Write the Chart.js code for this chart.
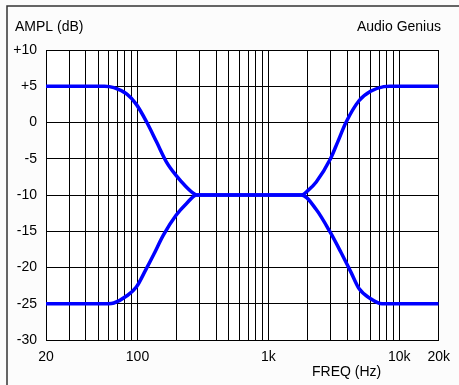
<!DOCTYPE html>
<html>
<head>
<meta charset="utf-8">
<script src="https://cdn.jsdelivr.net/npm/chart.js@4"></script>
<style>
  html, body { margin: 0; padding: 0; background: #fcfcfc; }
  canvas { display: block; }
</style>
</head>
<body>
<canvas id="eqChart" width="459" height="385"></canvas>
<script>
// Frequenzen (Hz) und Pegel (dB)
const upperFreq = [20, 56, 66, 83, 98, 118, 140, 167, 197, 236, 260, 284, 1790, 2000, 2320, 2980, 3380, 3910, 4920, 6030, 7600, 8500, 20000];
const upperDb   = [5, 5, 4.8, 3.9, 2.5, 0, -2.7, -5.5, -7.3, -8.9, -9.6, -10, -10, -9.4, -8.2, -5, -2.7, 0, 3, 4.3, 4.95, 5, 5];

const lowerFreq = [20, 60, 66, 83, 98, 115, 133, 158, 197, 236, 284, 1790, 2320, 2980, 3580, 4260, 4920, 6030, 7380, 20000];
const lowerDb   = [-25, -25, -24.9, -23.9, -22.7, -20.4, -18.2, -15.5, -12.8, -11.2, -10, -10, -12, -15.2, -17.9, -20.6, -22.9, -24.3, -25, -25];

// Rasterlinien und Beschriftungen der Frequenzachse
const xGrid = [20, 30, 40, 50, 60, 70, 80, 90, 100, 200, 300, 400, 500, 600, 700, 800, 900,
               1000, 2000, 3000, 4000, 5000, 6000, 7000, 8000, 9000, 10000, 20000];
const xLabels = { 20: '20', 100: '100', 1000: '1k', 10000: '10k', 20000: '20k' };

const FONT = "'Liberation Sans', Arial, sans-serif";

function toPoints(xs, ys) {
    return xs.map((x, i) => ({ x: x, y: ys[i] }));
}

// Hintergrund, Rahmen und Texte
const decorPlugin = {
    id: 'decor',
    beforeDraw(chart) {
        const ctx = chart.ctx;
        const a = chart.chartArea;
        ctx.save();
        ctx.fillStyle = '#fcfcfc';
        ctx.fillRect(0, 0, chart.width, chart.height);
        ctx.fillStyle = '#ffffff';
        ctx.fillRect(a.left, a.top, a.right - a.left, a.bottom - a.top);
        ctx.strokeStyle = '#333';
        ctx.lineWidth = 1.5;
        ctx.beginPath();
        ctx.moveTo(7, chart.height);
        ctx.lineTo(7, 6);
        ctx.lineTo(chart.width, 6);
        ctx.stroke();
        ctx.restore();
    },
    afterDraw(chart) {
        const ctx = chart.ctx;
        ctx.save();
        ctx.fillStyle = '#000';
        ctx.font = '14px ' + FONT;
        ctx.textBaseline = 'alphabetic';
        ctx.textAlign = 'left';
        ctx.fillText('AMPL (dB)', 15, 31);
        ctx.textAlign = 'right';
        ctx.fillText('Audio Genius', 441, 31);
        ctx.textAlign = 'left';
        ctx.fillText('FREQ (Hz)', 312, 376);
        ctx.restore();
    }
};

const ctx = document.getElementById('eqChart').getContext('2d');
new Chart(ctx, {
    type: 'line',
    data: {
        datasets: [{
            data: toPoints(upperFreq, upperDb),
            borderColor: '#0000ff',
            borderWidth: 3.5,
            pointRadius: 0,
            cubicInterpolationMode: 'monotone'
        }, {
            data: toPoints(lowerFreq, lowerDb),
            borderColor: '#0000ff',
            borderWidth: 3.5,
            pointRadius: 0,
            cubicInterpolationMode: 'monotone'
        }]
    },
    options: {
        responsive: false,
        animation: false,
        devicePixelRatio: 1,
        layout: { padding: { top: 50, right: 15, left: 0, bottom: 0 } },
        plugins: {
            legend: { display: false },
            tooltip: { enabled: false }
        },
        scales: {
            x: {
                type: 'logarithmic',
                min: 20,
                max: 20000,
                afterBuildTicks: function (scale) {
                    scale.ticks = xGrid.map(v => ({ value: v }));
                },
                afterFit: function (scale) { scale.height = 45; },
                ticks: {
                    autoSkip: false,
                    maxRotation: 0,
                    color: '#000',
                    padding: 9,
                    font: { family: FONT, size: 14 },
                    callback: function (value) {
                        return xLabels[value] || '';
                    }
                },
                grid: { color: '#000', lineWidth: 1, drawTicks: false },
                border: { color: '#000', width: 1 }
            },
            y: {
                min: -30,
                max: 10,
                afterFit: function (scale) { scale.width = 46; },
                ticks: {
                    stepSize: 5,
                    color: '#000',
                    padding: 9,
                    font: { family: FONT, size: 14 },
                    callback: function (value) {
                        return value > 0 ? '+' + value : '' + value;
                    }
                },
                grid: { color: '#000', lineWidth: 1, drawTicks: false },
                border: { color: '#000', width: 1 }
            }
        }
    },
    plugins: [decorPlugin]
});
</script>
</body>
</html>
